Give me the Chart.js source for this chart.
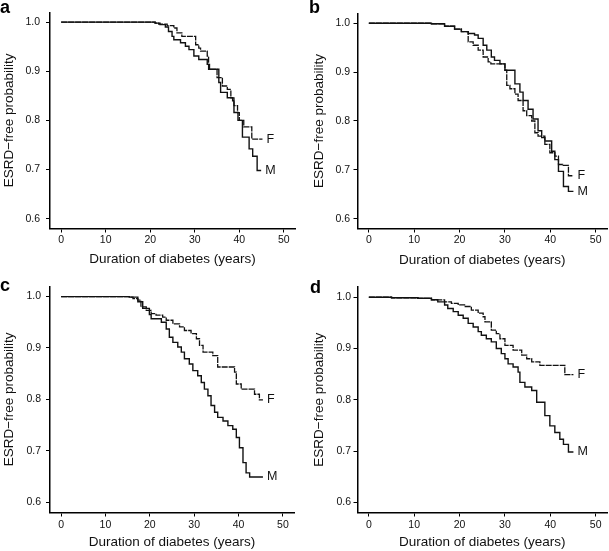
<!DOCTYPE html>
<html>
<head>
<meta charset="utf-8">
<script src="https://cdn.jsdelivr.net/npm/chart.js@4.4.1/dist/chart.umd.min.js"></script>
<style>
  body { margin: 0; background: #fff; }
  #wrap { position: relative; width: 609px; height: 551px; overflow: hidden; }
  canvas { position: absolute; }
  .tag { position: absolute; font: bold 18px 'Liberation Sans', Arial, sans-serif; line-height: 1; color: #000; }
</style>
</head>
<body>
<div id="wrap">
  <canvas id="pa" width="305" height="275" style="left:0;top:0"></canvas>
  <canvas id="pb" width="304" height="275" style="left:305px;top:0"></canvas>
  <canvas id="pc" width="305" height="276" style="left:0;top:275px"></canvas>
  <canvas id="pd" width="304" height="276" style="left:305px;top:275px"></canvas>
  <div class="tag" style="left:0;top:-2px">a</div>
  <div class="tag" style="left:309px;top:-2px">b</div>
  <div class="tag" style="left:0;top:276px">c</div>
  <div class="tag" style="left:310px;top:278px">d</div>
</div>
<script>
// axis ticks
const xTicks = [0, 10, 20, 30, 40, 50];
const yTicks = [0.6, 0.7, 0.8, 0.9, 1.0];
const seriesNames = ['M', 'F'];

// Kaplan-Meier steps: [years, ESRD-free probability]
const aMale = [[0,1],[21.1,0.998],[22.2,0.995],[23.4,0.990],[24.1,0.981],[24.9,0.971],[25.3,0.964],[26.8,0.958],[27.9,0.951],[28.7,0.944],[29.8,0.931],[30.9,0.924],[32.8,0.914],[33.3,0.904],[35.4,0.877],[35.8,0.857],[37.3,0.846],[38.5,0.840],[38.8,0.816],[39.7,0.800],[40.7,0.766],[42.2,0.742],[43.0,0.727],[44.0,0.698],[44.9,0.698]];
const aFemale = [[0,1],[21.1,0.998],[21.9,0.996],[23.8,0.993],[25.3,0.988],[26.0,0.978],[27.1,0.971],[30.2,0.954],[30.9,0.947],[31.3,0.941],[32.8,0.931],[33.1,0.904],[35.0,0.887],[36.2,0.870],[37.3,0.863],[38.1,0.846],[38.8,0.830],[39.6,0.816],[40.0,0.800],[41.0,0.787],[42.8,0.762],[45.2,0.762]];

const bMale = [[0,1],[13.8,0.999],[16.7,0.994],[18.9,0.988],[20.4,0.983],[21.9,0.979],[23.3,0.976],[24.1,0.969],[25.2,0.955],[26.0,0.945],[27.0,0.931],[27.7,0.924],[28.9,0.917],[30.0,0.904],[32.2,0.876],[33.3,0.859],[34.0,0.842],[35.1,0.824],[36.2,0.804],[37.3,0.780],[38.1,0.766],[38.8,0.759],[40.3,0.738],[41.0,0.721],[41.8,0.697],[42.9,0.666],[44.0,0.656],[45.1,0.656]];
const bFemale = [[0,1],[13.8,0.999],[16.7,0.994],[18.9,0.988],[20.4,0.983],[21.9,0.962],[23.0,0.955],[24.1,0.945],[25.2,0.931],[26.3,0.921],[26.9,0.917],[30.0,0.904],[30.4,0.873],[31.1,0.866],[32.2,0.855],[32.9,0.842],[34.0,0.821],[34.8,0.811],[35.9,0.800],[36.6,0.776],[37.3,0.769],[38.8,0.752],[39.9,0.735],[41.0,0.728],[41.8,0.711],[42.7,0.709],[44.0,0.688],[45.1,0.688]];

const cMale = [[0,1],[15.4,0.999],[17.3,0.990],[18.4,0.977],[19.9,0.965],[20.3,0.957],[22.6,0.950],[23.7,0.937],[24.4,0.921],[25.2,0.911],[26.3,0.902],[27.1,0.892],[27.8,0.879],[28.9,0.869],[29.7,0.856],[30.8,0.846],[31.6,0.833],[32.3,0.820],[33.1,0.807],[33.8,0.788],[34.6,0.775],[35.3,0.765],[36.5,0.758],[37.6,0.749],[38.7,0.742],[39.5,0.726],[40.2,0.706],[41.0,0.677],[41.7,0.657],[42.5,0.649],[45.5,0.649]];
const cFemale = [[0,1],[15.4,0.999],[16.2,0.996],[17.3,0.993],[18.0,0.980],[19.2,0.973],[20.3,0.967],[21.4,0.964],[22.9,0.960],[23.7,0.954],[25.2,0.947],[26.7,0.941],[27.8,0.934],[29.3,0.928],[30.5,0.918],[31.2,0.905],[32.0,0.892],[34.2,0.885],[35.3,0.863],[39.1,0.853],[39.5,0.830],[40.6,0.820],[43.6,0.810],[44.7,0.799],[45.5,0.799]];

const dMale = [[0,1],[5,0.999],[10.8,0.998],[13.8,0.995],[15.2,0.991],[16.7,0.985],[17.4,0.978],[18.6,0.972],[19.7,0.965],[20.8,0.959],[21.9,0.949],[23.0,0.942],[24.1,0.933],[24.8,0.926],[25.9,0.919],[27.0,0.913],[28.1,0.900],[29.2,0.890],[30.0,0.880],[30.7,0.870],[31.8,0.864],[32.9,0.854],[33.3,0.834],[34.4,0.825],[35.9,0.818],[37.0,0.795],[38.8,0.769],[39.9,0.749],[41.0,0.736],[42.1,0.723],[42.9,0.713],[44.0,0.698],[45.1,0.698]];
const dFemale = [[0,1],[5,0.999],[10.8,0.998],[13.8,0.995],[16.7,0.991],[18.2,0.988],[19.7,0.985],[21.1,0.982],[22.6,0.975],[24.1,0.969],[25.2,0.962],[25.6,0.952],[27.0,0.936],[28.1,0.929],[28.9,0.919],[30.0,0.906],[31.8,0.897],[33.7,0.887],[34.8,0.880],[35.9,0.874],[37.7,0.867],[43.2,0.849],[45.1,0.849]];

const FONT = "'Liberation Sans', Arial, Helvetica, sans-serif";
const INK = '#111';

// writes M / F just past the end of each curve
const endLabels = {
  id: 'endLabels',
  afterDatasetsDraw(chart) {
    const ctx = chart.ctx, xs = chart.scales.x, ys = chart.scales.y;
    ctx.save();
    ctx.font = '12.5px ' + FONT;
    ctx.fillStyle = INK;
    ctx.textAlign = 'left';
    ctx.textBaseline = 'middle';
    chart.data.datasets.forEach(ds => {
      const last = ds.data[ds.data.length - 1];
      ctx.fillText(ds.label, xs.getPixelForValue(last.x + 0.9), ys.getPixelForValue(last.y));
    });
    ctx.restore();
  }
};

function makePanel(id, male, female, g) {
  const toPts = arr => arr.map(p => ({ x: p[0], y: p[1] }));
  new Chart(document.getElementById(id), {
    type: 'line',
    data: {
      datasets: [
        { label: seriesNames[0], data: toPts(male), borderColor: INK, borderWidth: 1.4, stepped: 'before', pointRadius: 0, fill: false },
        { label: seriesNames[1], data: toPts(female), borderColor: INK, borderWidth: 1.3, borderDash: [6, 1], stepped: 'before', pointRadius: 0, fill: false }
      ]
    },
    options: {
      responsive: false,
      animation: false,
      events: [],
      layout: { padding: { left: g.padLeft, top: g.padTop, right: g.padRight, bottom: 0 } },
      plugins: { legend: { display: false }, tooltip: { enabled: false } },
      scales: {
        x: {
          type: 'linear', min: -2.5, max: 52.5,
          afterBuildTicks: s => { s.ticks = xTicks.map(v => ({ value: v })); },
          afterFit: s => { s.height = g.xHeight; },
          grid: { drawOnChartArea: false, drawTicks: true, tickLength: 4, color: '#000', lineWidth: 1 },
          border: { display: true, color: '#000', width: 1.5 },
          ticks: { font: { family: FONT, size: 10.5 }, color: INK, padding: g.xTickPad, maxRotation: 0 },
          title: { display: true, text: 'Duration of diabetes (years)', font: { family: FONT, size: 13.5 }, color: INK, padding: { top: 0, bottom: g.xTitlePad } }
        },
        y: {
          type: 'linear', min: 0.58, max: 1.02,
          afterBuildTicks: s => { s.ticks = yTicks.map(v => ({ value: v })); },
          afterFit: s => { s.width = g.yWidth; },
          grid: { drawOnChartArea: false, drawTicks: true, tickLength: 4, color: '#000', lineWidth: 1 },
          border: { display: true, color: '#000', width: 1.5 },
          ticks: { font: { family: FONT, size: 10.5 }, color: INK, padding: g.yTickPad, callback: v => v.toFixed(1) },
          title: { display: true, text: 'ESRD\u2212free probability', font: { family: FONT, size: 13.5 }, color: INK, padding: { top: g.yTitlePad, bottom: 0 } }
        }
      }
    },
    plugins: [endLabels]
  });
}

makePanel('pa', aMale, aFemale, { padLeft: 0, padTop: 9, padRight: 10, yWidth: 50, xHeight: 46.5, yTickPad: 6, xTickPad: 1.5, xTitlePad: 7.5, yTitlePad: 1.5 });
makePanel('pb', bMale, bFemale, { padLeft: 5, padTop: 13.5, padRight: 2, yWidth: 47.5, xHeight: 46.5, yTickPad: 3.5, xTickPad: 1.5, xTitlePad: 7, yTitlePad: 1.4 });
makePanel('pc', cMale, cFemale, { padLeft: 0, padTop: 11, padRight: 11, yWidth: 50, xHeight: 38.5, yTickPad: 5, xTickPad: 2.5, xTitlePad: 1, yTitlePad: 1.2 });
makePanel('pd', dMale, dFemale, { padLeft: 5, padTop: 12, padRight: 2, yWidth: 47.5, xHeight: 38.5, yTickPad: 2.5, xTickPad: 2.5, xTitlePad: 1, yTitlePad: 1.1 });
</script>
</body>
</html>
